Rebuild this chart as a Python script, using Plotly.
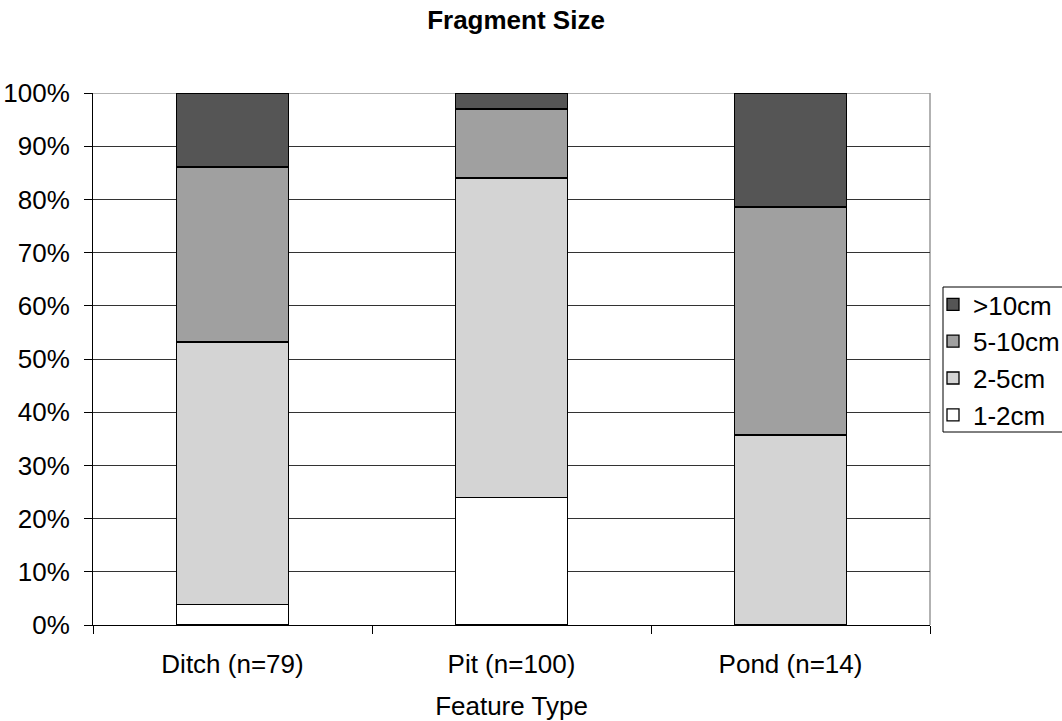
import plotly.graph_objects as go

categories = ["Ditch (n=79)", "Pit (n=100)", "Pond (n=14)"]
series_names = ["1-2cm", "2-5cm", "5-10cm", ">10cm"]
v_1_2 = [3.8, 24.0, 0.0]
v_2_5 = [49.4, 60.0, 35.7]
v_5_10 = [32.9, 13.0, 42.9]
v_10p = [13.9, 3.0, 21.4]
colors = ["#ffffff", "#d4d4d4", "#a0a0a0", "#555555"]
y_ticks = [0, 10, 20, 30, 40, 50, 60, 70, 80, 90, 100]
y_labels = [f"{t}%" for t in y_ticks]

fig = go.Figure()
for name, vals, col in zip(series_names, [v_1_2, v_2_5, v_5_10, v_10p], colors):
    fig.add_trace(go.Bar(
        x=categories, y=vals, name=name,
        marker=dict(color=col, line=dict(color="black", width=1.3)),
    ))

font = "Liberation Sans, Arial, sans-serif"
L, R, T, B = 93, 930, 93, 625
pw, ph = R - L, B - T
fig.update_layout(
    barmode="stack",
    bargap=0.6,
    width=1062, height=721,
    margin=dict(l=L, r=1062 - R, t=T, b=721 - B, autoexpand=False),
    paper_bgcolor="white", plot_bgcolor="white",
    font=dict(family=font, size=26, color="black"),
    title=dict(text="<b>Fragment Size</b>", x=516 / 1062, xanchor="center",
               y=1 - 20 / 721, yanchor="middle", font=dict(size=26, family=font)),
    legend=dict(traceorder="reversed", x=(933 - L) / pw, xanchor="left",
                y=(B - 281) / ph, yanchor="top",
                borderwidth=0, bgcolor="rgba(0,0,0,0)",
                font=dict(size=26), itemwidth=30, tracegroupgap=0),
    xaxis=dict(title=dict(text="Feature Type", font=dict(size=26), standoff=18),
               showline=True, linecolor="black", linewidth=1,
               ticks="outside", tickson="boundaries", ticklen=8, tickcolor="black",
               ticklabelstandoff=16,
               showgrid=False, mirror=False),
    yaxis=dict(range=[0, 100], tickvals=y_ticks, ticktext=y_labels,
               showline=True, linecolor="black", linewidth=1,
               ticks="outside", ticklen=8, tickcolor="black",
               ticklabelstandoff=9,
               showgrid=True, gridcolor="#333333", gridwidth=1, zeroline=False),
)
fig.add_shape(type="line", xref="paper", yref="y", x0=0, x1=1, y0=100, y1=100,
              layer="below", line=dict(color="#999999", width=1.5))
fig.add_shape(type="line", xref="paper", yref="y", x0=1, x1=1, y0=0, y1=100,
              layer="below", line=dict(color="#999999", width=1.5))
# legend frame (open to the right edge, as in the reference)
fig.add_shape(type="rect", xref="paper", yref="paper",
              x0=(943 - L) / pw, x1=(1070 - L) / pw,
              y0=(B - 432) / ph, y1=(B - 287) / ph,
              line=dict(color="black", width=1), fillcolor="rgba(0,0,0,0)")
fig.write_html("out.html")
